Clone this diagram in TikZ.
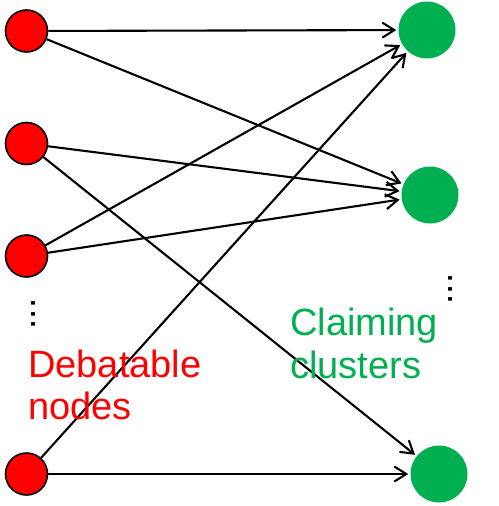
\documentclass[tikz,border=0pt]{standalone}
\usepackage{fontspec}
\setmainfont{Liberation Sans}
\usetikzlibrary{arrows.meta}
\definecolor{ppred}{HTML}{FF0000}
\definecolor{ppgreen}{HTML}{00B050}
\begin{document}
\begin{tikzpicture}[x=1pt,y=-1pt,
  rednode/.style={circle,fill=ppred,draw=black,line width=1.6pt,minimum size=42pt,inner sep=0pt},
  greennode/.style={circle,fill=ppgreen,minimum size=57pt,inner sep=0pt},
  edge/.style={line width=2.1pt,-{Straight Barb[length=12pt,width=15pt]},shorten >=2pt},
  lbl/.style={font=\fontsize{38}{43}\selectfont,anchor=base west,inner sep=0pt},
  dotsl/.style={font=\fontsize{37}{43}\selectfont,inner sep=0pt}
]
\useasboundingbox (0,0) rectangle (498,506);
\node[rednode] (r1) at (26.5,31) {};
\node[rednode] (r2) at (26.5,143.5) {};
\node[rednode] (r3) at (26.5,256) {};
\node[rednode] (r4) at (26.5,474) {};
\node[greennode] (g1) at (427,30) {};
\node[greennode] (g2) at (430,195) {};
\node[greennode] (g3) at (439,474) {};
\draw[edge] (r1) -- (g1);
\draw[edge] (r1) -- (g2);
\draw[edge] (r2) -- (g2);
\draw[edge] (r2) -- (g3);
\draw[edge] (r3) -- (g1);
\draw[edge] (r3) -- (g2);
\draw[edge] (r4) -- (g1);
\draw[edge] (r4) -- (g3);
\node[dotsl] (dl) at (34,314) {\rotatebox{90}{...}};
\node[dotsl] (dr) at (451,289) {\rotatebox{90}{...}};
\node[lbl,text=ppred] (d1) at (28,377) {Debatable};
\node[lbl,text=ppred] (d2) at (28,419) {nodes};
\node[lbl,text=ppgreen] (c1) at (290,335) {Claiming};
\node[lbl,text=ppgreen] (c2) at (290,378) {clusters};
\end{tikzpicture}
\end{document}
